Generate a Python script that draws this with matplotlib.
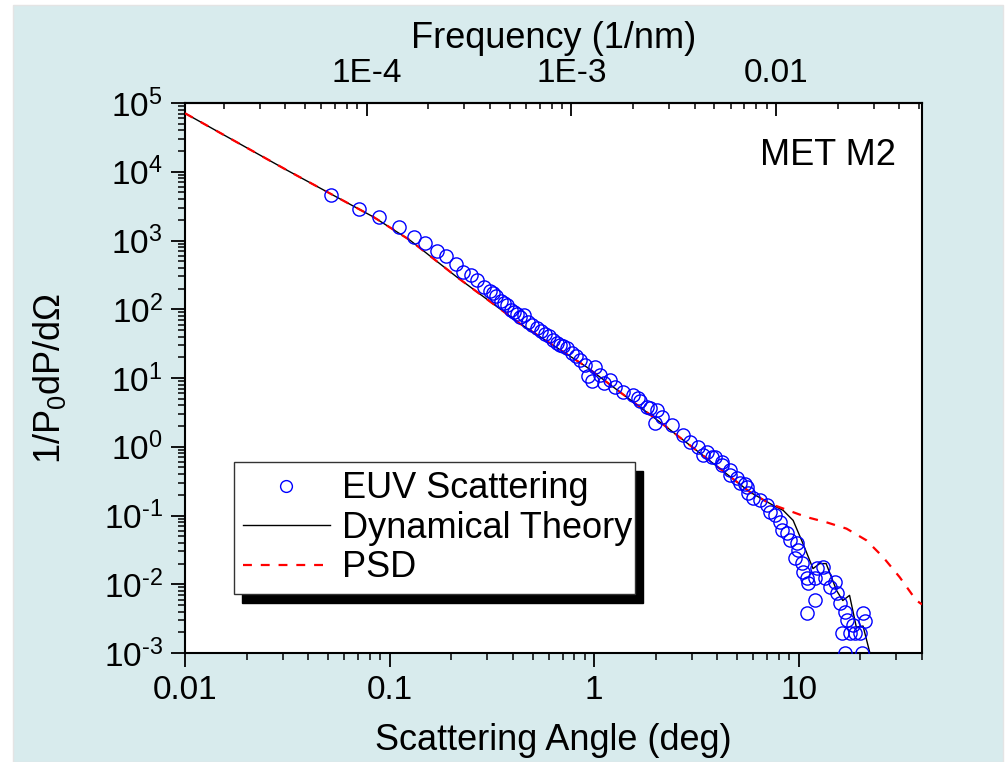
import numpy as np
import matplotlib
matplotlib.use("Agg")
import matplotlib.pyplot as plt
from matplotlib.patches import Rectangle
from matplotlib.ticker import LogLocator, NullFormatter, FixedLocator, FixedFormatter

plt.rcParams["font.family"] = ["Liberation Sans", "DejaVu Sans"]
plt.rcParams["mathtext.fontset"] = "custom"
plt.rcParams["mathtext.rm"] = "Liberation Sans"
plt.rcParams["mathtext.it"] = "Liberation Sans:italic"

# EUV scattering measurement (angle in deg, 1/P0 dP/dOmega)
euv_angle = [0.0517, 0.0708, 0.0886, 0.111, 0.1315, 0.1487, 0.1702, 0.1884, 0.2108, 0.228,
             0.2495, 0.267, 0.2888, 0.309, 0.3196, 0.3306, 0.3499, 0.3618, 0.3741, 0.3913,
             0.4048, 0.4186, 0.4331, 0.4529, 0.4737, 0.4956, 0.5243, 0.5483, 0.5736, 0.5998,
             0.6277, 0.6565, 0.679, 0.7023, 0.7348, 0.7772, 0.8128, 0.8504, 0.8995, 0.9305,
             0.973, 1.0067, 1.065, 1.114, 1.191, 1.261, 1.38, 1.543, 1.633, 1.67,
             1.807, 1.868, 1.977, 2.022, 2.139, 2.393, 2.709, 2.93, 3.21, 3.39,
             3.55, 3.75, 3.88, 4.2, 4.2, 4.6, 4.6, 4.97, 5.14, 5.44,
             5.57, 5.63, 5.95, 6.44, 6.97, 7.21, 7.62, 8.07, 8.25, 8.73,
             9.03, 9.76, 9.87, 9.55, 10.33, 10.45, 10.93, 11.05, 11.96, 12.23,
             13.08, 13.38, 11.96, 10.93, 14.15, 14.97, 15.31, 15.84, 16.75, 17.13,
             16.19, 17.72, 18.75, 19.83, 20.52, 20.98, 18.34, 16.75, 20.3]
euv_signal = [4580, 2864, 2190, 1567, 1121, 917, 701, 593, 454, 347,
              313, 265, 210, 183, 171, 155, 131, 123, 115, 97,
              91, 85, 77, 82, 65, 58.7, 53, 48, 43.4, 40.6,
              35.5, 32.1, 30, 29, 27.2, 23, 20.8, 18.2, 15.4, 10.6,
              8.98, 14.4, 11, 8.4, 9.3, 7.35, 6.21, 5.62, 5.08, 4.6,
              3.76, 3.63, 2.2, 3.4, 2.69, 2.06, 1.47, 1.16, 0.983, 0.752,
              0.832, 0.703, 0.703, 0.595, 0.538, 0.455, 0.385, 0.348, 0.294, 0.285,
              0.257, 0.21, 0.178, 0.166, 0.141, 0.111, 0.1006, 0.0796, 0.0609, 0.055,
              0.0436, 0.0394, 0.0311, 0.0238, 0.0201, 0.0149, 0.0122, 0.0103, 0.0122, 0.017,
              0.0176, 0.0122, 0.00583, 0.00377, 0.00901, 0.01066, 0.00737, 0.00527, 0.0039, 0.00298,
              0.00193, 0.00193, 0.00193, 0.00193, 0.00377, 0.00288, 0.00252, 0.001, 0.001]

# dynamical theory curve
theory_angle = [0.01, 0.0314, 0.0832, 0.1256, 0.2123, 0.433, 0.917, 2.255, 5.76, 7.48,
                8.38, 9.38, 10.48, 11.73, 12.65, 13.6, 15.3, 16.4, 17.7, 19.1,
                20.6, 22.2, 23.5]
theory_signal = [71000, 10600, 2210, 1014, 297, 62, 14.5, 1.94, 0.22, 0.141,
                 0.119, 0.085, 0.039, 0.0169, 0.020, 0.020, 0.0081, 0.0058, 0.0069, 0.00238,
                 0.00247, 0.00103, 0.0006]

# PSD curve
psd_angle = [0.01, 0.0314, 0.0832, 0.1256, 0.2123, 0.433, 0.917, 2.255, 5.76, 7.21,
             10.9, 13.6, 17.1, 21.4, 25.8, 31.1, 37.5, 40.0]
psd_signal = [71000, 10600, 2210, 1014, 297, 62, 14.5, 1.94, 0.22, 0.149,
              0.095, 0.080, 0.0645, 0.0436, 0.0249, 0.0127, 0.00583, 0.0051]

WAVELENGTH_NM = 13.5
top_ticks = [1e-4, 1e-3, 1e-2]
top_labels = ["1E-4", "1E-3", "0.01"]
y_ticks = [1e-3, 1e-2, 1e-1, 1e0, 1e1, 1e2, 1e3, 1e4, 1e5]
y_labels = [r"$10^{\text{%d}}$" % e for e in range(-3, 6)]
x_ticks = [0.01, 0.1, 1, 10]
x_labels = ["0.01", "0.1", "1", "10"]


def deg2freq(a):
    return np.deg2rad(a) / WAVELENGTH_NM


def freq2deg(f):
    return np.rad2deg(np.asarray(f) * WAVELENGTH_NM)


fig = plt.figure(figsize=(10.07, 7.62), dpi=100)
fig.patch.set_facecolor("white")
fig.patches.append(Rectangle((13 / 1007, 0), 990 / 1007, 757 / 762, transform=fig.transFigure,
                             facecolor="#d8ebed", edgecolor="#e4e4e4", lw=1, zorder=-5))
ax = fig.add_axes([0.1837, 0.143, 0.7319, 0.7218])
ax.set_facecolor("white")

ax.plot(theory_angle, theory_signal, color="black", lw=1.0, label="Dynamical Theory", zorder=3)
ax.plot(psd_angle, psd_signal, color="red", lw=1.6, dashes=(4, 4), label="PSD", zorder=4)
ax.plot(euv_angle, euv_signal, ls="none", marker="o", ms=9.5, mfc="none", mec="blue", mew=1.0,
        label="EUV Scattering", zorder=5)

ax.set_xscale("log")
ax.set_yscale("log")
ax.set_xlim(0.01, 40)
ax.set_ylim(1e-3, 1e5)

ax.set_xticks(x_ticks, labels=x_labels)
ax.xaxis.set_minor_locator(LogLocator(base=10, subs=np.arange(2, 10), numticks=100))
ax.xaxis.set_minor_formatter(NullFormatter())
ax.set_yticks(y_ticks, labels=y_labels)
ax.yaxis.set_minor_locator(LogLocator(base=10, subs=np.arange(2, 10), numticks=100))
ax.yaxis.set_minor_formatter(NullFormatter())
ax.tick_params(axis="both", which="major", direction="out", length=10, width=1.3, labelsize=24, pad=6)
ax.tick_params(axis="both", which="minor", direction="out", length=5, width=1.1)
ax.tick_params(top=False, right=False, which="both")
for s in ax.spines.values():
    s.set_linewidth(1.5)

ax.set_xlabel("Scattering Angle (deg)", fontsize=26, labelpad=12)
ax.set_ylabel("1/P$_0$dP/dΩ", fontsize=26, labelpad=26)

sec = ax.secondary_xaxis("top", functions=(deg2freq, freq2deg))
sec.xaxis.set_major_locator(FixedLocator(top_ticks))
sec.xaxis.set_major_formatter(FixedFormatter(top_labels))
sec.xaxis.set_minor_locator(LogLocator(base=10, subs=np.arange(2, 10), numticks=100))
sec.xaxis.set_minor_formatter(NullFormatter())
sec.tick_params(which="major", direction="in", length=9, width=1.3, labelsize=24, pad=10)
sec.tick_params(which="minor", direction="in", length=4, width=1.1)
sec.spines["top"].set_linewidth(1.5)
sec.set_xlabel("Frequency (1/nm)", fontsize=26, labelpad=7)

ax.text(0.965, 0.905, "MET M2", transform=ax.transAxes, ha="right", va="center", fontsize=26)

handles, labels = ax.get_legend_handles_labels()
order = [2, 0, 1]
leg = ax.legend([handles[i] for i in order], [labels[i] for i in order],
                loc="lower left", bbox_to_anchor=(0.0665, 0.107, 0.544, 0.244), mode="expand",
                borderaxespad=0, fontsize=26, frameon=True, fancybox=False,
                handlelength=2.4, handletextpad=0.35, labelspacing=0.12, borderpad=0.25,
                shadow={"color": "black", "alpha": 1, "ox": 6, "oy": -6})
leg.get_frame().set_edgecolor("#333333")
leg.get_frame().set_linewidth(1.0)
leg.get_frame().set_alpha(1)
leg.legend_handles[0].set_markersize(8.5)

fig.savefig("out.png", dpi=100, facecolor=fig.get_facecolor())
